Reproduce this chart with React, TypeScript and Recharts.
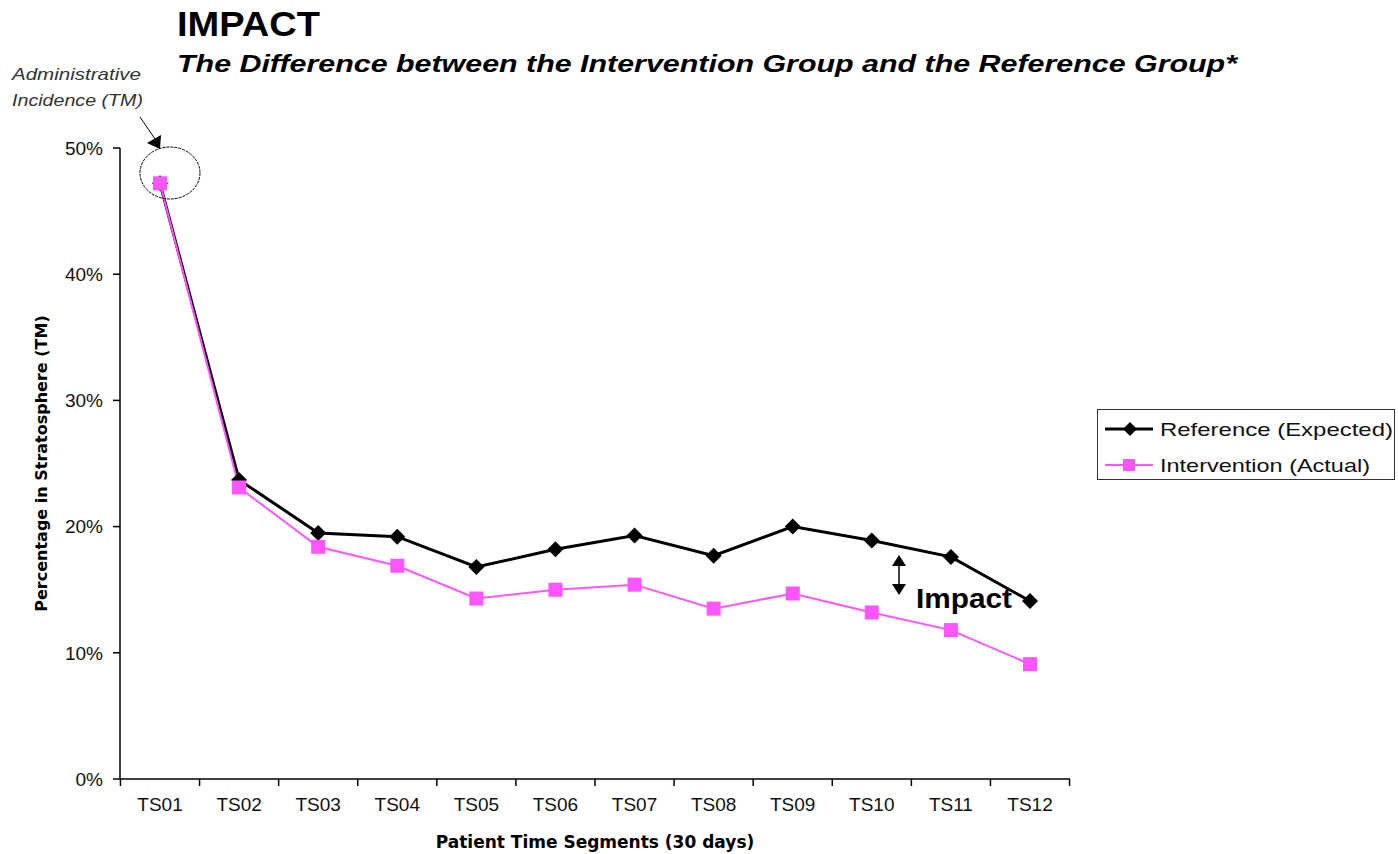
import { LineChart, Line, XAxis, YAxis, Label } from "recharts";

const segments = ["TS01", "TS02", "TS03", "TS04", "TS05", "TS06", "TS07", "TS08", "TS09", "TS10", "TS11", "TS12"];
const reference = [0.472, 0.237, 0.195, 0.192, 0.168, 0.182, 0.193, 0.177, 0.2, 0.189, 0.176, 0.141];
const intervention = [0.472, 0.231, 0.184, 0.169, 0.143, 0.15, 0.154, 0.135, 0.147, 0.132, 0.118, 0.091];
const yTicks = [0, 0.1, 0.2, 0.3, 0.4, 0.5];

const FONT = "'Liberation Sans', Arial, sans-serif";
const WIDE = "'DejaVu Sans', Verdana, sans-serif";
const PINK = "#ff55ff";
const PAD = 40;
const TICK_SIZE = 7;
const TICK_MARGIN = 12;

const data = segments.map((s, i) => ({ name: s, reference: reference[i], intervention: intervention[i] }));

const Diamond = (props: any) => {
  const { cx, cy, index } = props;
  return <path key={`d-${index}`} d={`M${cx},${cy - 8} L${cx + 8},${cy} L${cx},${cy + 8} L${cx - 8},${cy} Z`} fill="#000" />;
};

const Square = (props: any) => {
  const { cx, cy, index } = props;
  return <rect key={`s-${index}`} x={cx - 7} y={cy - 7} width={14} height={14} fill={PINK} />;
};

// Excel-style: tick marks sit between categories, label in the middle
const CategoryTick = (props: any) => {
  const { x, y, payload, index, width, visibleTicksCount } = props;
  const n = visibleTicksCount || segments.length;
  const half = ((width || 950) - PAD * 2) / (n - 1) / 2;
  const axisY = y - TICK_SIZE - TICK_MARGIN;
  return (
    <g>
      <line x1={x - half} x2={x - half} y1={axisY} y2={axisY + TICK_SIZE} stroke="#000" strokeWidth={1.5} />
      {index === n - 1 && <line x1={x + half} x2={x + half} y1={axisY} y2={axisY + TICK_SIZE} stroke="#000" strokeWidth={1.5} />}
      <text x={x} y={y} dy="0.71em" textAnchor="middle" fontFamily={FONT} fontSize={19} fill="#111">{payload.value}</text>
    </g>
  );
};

const legendItems = [
  { label: "Reference (Expected)", color: "#000", sw: 3, shape: "diamond", len: 233 },
  { label: "Intervention (Actual)", color: PINK, sw: 2, shape: "square", len: 210 },
];

export default function App() {
  return (
    <div style={{ position: "absolute", left: 0, top: 0, width: 1398, height: 854, background: "#fff", fontFamily: FONT }}>
      <LineChart width={1398} height={854} data={data} margin={{ top: 148, right: 328, bottom: 0, left: 0 }}>
        <XAxis dataKey="name" padding={{ left: PAD, right: PAD }} axisLine={{ stroke: "#000", strokeWidth: 1.5 }}
          tickLine={false} tickSize={TICK_SIZE} tickMargin={TICK_MARGIN} tick={CategoryTick} height={75} interval={0}>
          <Label value="Patient Time Segments (30 days)" position="insideBottom" offset={6}
            style={{ fontFamily: WIDE, fontSize: 17, fontWeight: "bold", fill: "#000" }} />
        </XAxis>
        <YAxis domain={[0, 0.5]} ticks={yTicks} width={120} axisLine={{ stroke: "#000", strokeWidth: 1.5 }}
          tickLine={{ stroke: "#000", strokeWidth: 1.5 }} tickSize={7} tickMargin={10}
          tickFormatter={(v: number) => `${Math.round(v * 100)}%`}
          tick={{ fill: "#111", fontSize: 19, fontFamily: FONT }}>
          <Label value="Percentage in Stratosphere (TM)" angle={-90} position="insideLeft" offset={41}
            style={{ fontFamily: WIDE, fontSize: 16, fontWeight: "bold", fill: "#000", textAnchor: "middle" }} />
        </YAxis>
        <Line dataKey="reference" stroke="#000" strokeWidth={3} dot={Diamond} isAnimationActive={false} />
        <Line dataKey="intervention" stroke={PINK} strokeWidth={2} dot={Square} isAnimationActive={false} />
      </LineChart>

      <svg width={1398} height={854} style={{ position: "absolute", left: 0, top: 0, pointerEvents: "none" }}>
        <ellipse cx={170} cy={173} rx={30} ry={26} fill="none" stroke="#000" strokeWidth={1} strokeDasharray="3 1" />
        <line x1={140} y1={117} x2={155} y2={139} stroke="#000" strokeWidth={1} />
        <path d="M147,143 L161,135 L160,149 Z" fill="#000" />
        <line x1={899} y1={560} x2={899} y2={590} stroke="#000" strokeWidth={1.5} />
        <path d="M892,566 L906,566 L899,555 Z" fill="#000" />
        <path d="M892,584 L906,584 L899,595 Z" fill="#000" />
        <text x={916} y={608} fontFamily={FONT} fontSize={28} fontWeight="bold" fill="#000" textLength={96} lengthAdjust="spacingAndGlyphs">Impact</text>
        <text x={12} y={80} fontFamily={FONT} fontSize={17} fontStyle="italic" fill="#333" textLength={129} lengthAdjust="spacingAndGlyphs">Administrative</text>
        <text x={12} y={106} fontFamily={FONT} fontSize={17} fontStyle="italic" fill="#333" textLength={131} lengthAdjust="spacingAndGlyphs">Incidence (TM)</text>
        <text x={177} y={36} fontFamily={FONT} fontSize={35} fontWeight="bold" fill="#000" textLength={143} lengthAdjust="spacingAndGlyphs">IMPACT</text>
        <text x={177} y={72} fontFamily={FONT} fontSize={24} fontWeight="bold" fontStyle="italic" fill="#000" textLength={1060} lengthAdjust="spacingAndGlyphs">The Difference between the Intervention Group and the Reference Group*</text>

        <rect x={1097.5} y={409.5} width={297} height={70} fill="#fff" stroke="#333" strokeWidth={1} />
        {legendItems.map((it, i) => {
          const cy = 429 + i * 36;
          return (
            <g key={it.label}>
              <line x1={1105} y1={cy} x2={1153} y2={cy} stroke={it.color} strokeWidth={it.sw} />
              {it.shape === "diamond"
                ? <path d={`M1130,${cy - 7} L1137,${cy} L1130,${cy + 7} L1123,${cy} Z`} fill="#000" />
                : <rect x={1123} y={cy - 6} width={12} height={12} fill={PINK} />}
              <text x={1160} y={cy + 7} fontFamily={FONT} fontSize={19} fill="#111" textLength={it.len} lengthAdjust="spacingAndGlyphs">{it.label}</text>
            </g>
          );
        })}
      </svg>
    </div>
  );
}
